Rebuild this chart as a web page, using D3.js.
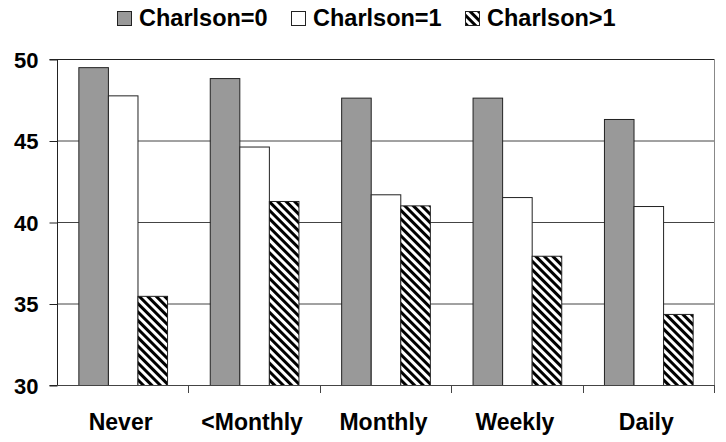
<!DOCTYPE html>
<html>
<head>
<meta charset="utf-8">
<script src="https://cdn.jsdelivr.net/npm/d3@7"></script>
<style>
  html, body { margin: 0; padding: 0; background: #fff; }
  svg { display: block; }
  text { font-family: "Liberation Sans", Arial, sans-serif; font-weight: bold; fill: #000; }
</style>
</head>
<body>
<svg id="chart" width="726" height="442"></svg>
<script>
const categories = ["Never", "<Monthly", "Monthly", "Weekly", "Daily"];
const seriesNames = ["Charlson=0", "Charlson=1", "Charlson>1"];
const charlson0 = [49.5, 48.83, 47.63, 47.63, 46.32];
const charlson1 = [47.77, 44.63, 41.7, 41.53, 40.98];
const charlson2 = [35.47, 41.29, 41.02, 37.93, 34.36];
const yTicks = [30, 35, 40, 45, 50];

const seriesValues = [charlson0, charlson1, charlson2];

const svg = d3.select("#chart");
const W = 726, H = 442;
const m = { left: 57, right: 12, top: 59, bottom: 57 };
const x0Left = m.left, x0Right = W - m.right;
const yTop = m.top, yBottom = H - m.bottom;

// hatch pattern
const defs = svg.append("defs");
const pat = defs.append("pattern")
  .attr("id", "hatch")
  .attr("patternUnits", "userSpaceOnUse")
  .attr("width", 6).attr("height", 6)
  .attr("patternTransform", "rotate(-45)");
pat.append("rect").attr("width", 6).attr("height", 6).attr("fill", "#fff");
pat.append("rect").attr("x", 0).attr("y", 0).attr("width", 3).attr("height", 6).attr("fill", "#000");

const fills = ["#999999", "#ffffff", "url(#hatch)"];

const x0 = d3.scaleBand().domain(categories).range([x0Left, x0Right])
  .paddingInner(0.325).paddingOuter(0.1625);
const x1 = d3.scaleBand().domain(d3.range(seriesNames.length)).range([0, x0.bandwidth()]);
const y = d3.scaleLinear().domain([30, 50]).range([yBottom, yTop]);

// gridlines
svg.append("g").selectAll("line").data(yTicks.filter(t => t > 30)).join("line")
  .attr("x1", x0Left).attr("x2", x0Right)
  .attr("y1", d => y(d) + 0.5).attr("y2", d => y(d) + 0.5)
  .attr("stroke", d => d === 50 ? "#222" : "#444").attr("stroke-width", 1);

// right border
svg.append("line").attr("x1", x0Right + 0.5).attr("x2", x0Right + 0.5)
  .attr("y1", yTop).attr("y2", yBottom).attr("stroke", "#888");

// bars
const groups = svg.append("g").selectAll("g").data(categories).join("g")
  .attr("transform", d => `translate(${x0(d)},0)`);
groups.selectAll("rect").data((c, i) => seriesValues.map((s, k) => ({ k, v: s[i] }))).join("rect")
  .attr("x", d => x1(d.k) + 0.5)
  .attr("y", d => y(d.v) + 0.5)
  .attr("width", x1.bandwidth())
  .attr("height", d => yBottom - y(d.v))
  .attr("fill", d => fills[d.k])
  .attr("stroke", "#222").attr("stroke-width", 1);

// left axis
const yAxis = d3.axisLeft(y).tickValues(yTicks).tickSize(8).tickPadding(11).tickFormat(d3.format("d"));
const ya = svg.append("g").attr("transform", `translate(${x0Left + 0.5},0.5)`).call(yAxis);
ya.select(".domain").attr("stroke", "#222").attr("d", `M-8,${yTop}H0V${yBottom}H-8`);
ya.selectAll(".tick line").attr("stroke", "#222");
ya.selectAll(".tick text").style("font-size", "22px").attr("dy", "0.36em").attr("fill", "#000");

// bottom axis
const boundaries = categories.map(c => x0(c) - x0.step() * x0.paddingInner() / 2).concat([x0Right]);
svg.append("line").attr("x1", x0Left).attr("x2", x0Right)
  .attr("y1", yBottom + 0.5).attr("y2", yBottom + 0.5).attr("stroke", "#444");
svg.append("g").selectAll("line").data(boundaries.slice(1)).join("line")
  .attr("x1", d => Math.round(d) + 0.5).attr("x2", d => Math.round(d) + 0.5)
  .attr("y1", yBottom).attr("y2", yBottom + 8).attr("stroke", "#444");
svg.append("g").selectAll("text").data(categories).join("text")
  .attr("x", d => x0(d) + x0.bandwidth() / 2 - 2)
  .attr("y", 430)
  .attr("text-anchor", "middle")
  .style("font-size", "23px")
  .text(d => d);

// legend
const legendX = [117, 291, 465];
const lg = svg.append("g").selectAll("g").data(seriesNames).join("g")
  .attr("transform", (d, i) => `translate(${legendX[i]},0)`);
lg.append("rect").attr("x", 0.5).attr("y", 11.5).attr("width", 14).attr("height", 14)
  .attr("fill", (d, i) => fills[i]).attr("stroke", "#222");
lg.append("text").attr("x", 22).attr("y", 26).style("font-size", "23.5px").text(d => d);
</script>
</body>
</html>
